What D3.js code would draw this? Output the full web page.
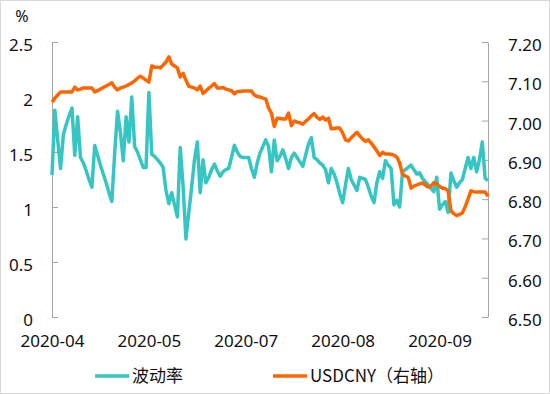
<!DOCTYPE html>
<html>
<head>
<meta charset="utf-8">
<script src="https://cdn.jsdelivr.net/npm/d3@7"></script>
<style>
  body { margin: 0; background: #fff; }
  text { font-family: "Noto Sans", "Noto Sans CJK SC", sans-serif; fill: #111; }
</style>
</head>
<body>
<script>
// volatility (%), left axis
const vol = [
  1.29, 1.88, 1.61, 1.35, 1.66, 1.75, 1.83, 1.90, 1.47, 1.82,
  1.45, 1.40, 1.33, 1.25, 1.18, 1.56, 1.47, 1.38, 1.30, 1.22,
  1.13, 1.05, 1.49, 1.87, 1.68, 1.42, 1.82, 1.59, 2.00, 1.55,
  1.50, 1.43, 1.36, 1.36, 2.04, 1.48, 1.46, 1.43, 1.40, 1.36,
  1.15, 1.03, 1.13, 1.02, 0.91, 1.54, 1.19, 0.71, 0.95, 1.18,
  1.43, 1.59, 1.13, 1.43, 1.22, 1.27, 1.34, 1.39, 1.33, 1.28,
  1.32, 1.34, 1.35, 1.45, 1.56, 1.50, 1.46, 1.45, 1.45, 1.45,
  1.35, 1.27, 1.40, 1.49, 1.55, 1.61, 1.55, 1.32, 1.61, 1.42,
  1.46, 1.52, 1.44, 1.35, 1.45, 1.49, 1.45, 1.41, 1.37, 1.47,
  1.57, 1.63, 1.45, 1.43, 1.40, 1.38, 1.34, 1.22, 1.35, 1.30,
  1.22, 1.12, 1.04, 1.20, 1.35, 1.25, 1.20, 1.15, 1.27, 1.26,
  1.25, 1.18, 1.10, 1.04, 1.22, 1.32, 1.26, 1.42, 1.38, 1.35,
  1.02, 1.06, 1.00, 1.32, 1.34, 1.36, 1.38, 1.34, 1.30, 1.31,
  1.26, 1.23, 1.20, 1.17, 1.14, 1.27, 0.98, 1.02, 1.05, 0.95,
  1.31, 1.24, 1.18, 1.22, 1.25, 1.35, 1.45, 1.35, 1.45, 1.32,
  1.43, 1.59, 1.26, 1.24
];

// USDCNY, right axis
const usdcny = [
  7.047, 7.057, 7.065, 7.073, 7.073, 7.073, 7.073, 7.073, 7.085, 7.078,
  7.080, 7.083, 7.083, 7.083, 7.083, 7.073, 7.076, 7.080, 7.084, 7.088,
  7.092, 7.096, 7.085, 7.078, 7.083, 7.085, 7.088, 7.092, 7.096, 7.101,
  7.108, 7.113, 7.108, 7.103, 7.098, 7.139, 7.136, 7.136, 7.134, 7.141,
  7.149, 7.162, 7.144, 7.139, 7.134, 7.111, 7.120, 7.103, 7.087, 7.085,
  7.083, 7.078, 7.088, 7.069, 7.075, 7.082, 7.088, 7.094, 7.083, 7.083,
  7.084, 7.080, 7.078, 7.076, 7.068, 7.074, 7.074, 7.075, 7.075, 7.075,
  7.075, 7.065, 7.061, 7.060, 7.057, 7.055, 7.032, 7.019, 6.985, 7.006,
  7.005, 7.004, 7.004, 7.019, 6.987, 6.999, 6.996, 6.994, 6.991, 6.998,
  7.004, 7.012, 7.018, 7.008, 7.003, 7.009, 7.001, 7.006, 6.979, 6.980,
  6.981, 6.981, 6.968, 6.951, 6.948, 6.956, 6.963, 6.970, 6.961, 6.953,
  6.947, 6.951, 6.943, 6.933, 6.923, 6.911, 6.919, 6.915, 6.915, 6.914,
  6.912, 6.907, 6.892, 6.864, 6.859, 6.855, 6.828, 6.833, 6.836, 6.839,
  6.841, 6.836, 6.831, 6.833, 6.842, 6.839, 6.832, 6.828, 6.827, 6.821,
  6.770, 6.763, 6.758, 6.761, 6.765, 6.781, 6.800, 6.821, 6.819, 6.818,
  6.818, 6.818, 6.818, 6.807
];

const xTickIdx = [0, 34, 68, 102, 136];
const xTickLabels = ["2020-04", "2020-05", "2020-07", "2020-08", "2020-09"];
const leftTicks = [0, 0.5, 1, 1.5, 2, 2.5];
const rightTicks = [6.5, 6.6, 6.7, 6.8, 6.9, 7.0, 7.1, 7.2];
const seriesNames = ["波动率", "USDCNY（右轴）"];

const W = 550, H = 394;
const plot = { left: 52, right: 488, top: 42, bottom: 317 };
const tealColor = "#35C6C4";
const orangeColor = "#FF6600";
const axisColor = "#a6a6a6";

const svg = d3.select("body").append("svg")
  .attr("width", W)
  .attr("height", H);

svg.append("rect")
  .attr("x", 0.5).attr("y", 0.5)
  .attr("width", W - 1).attr("height", H - 1)
  .attr("fill", "#fff")
  .attr("stroke", "#d9d9d9");

const x = d3.scaleLinear().domain([0, vol.length - 1]).range([plot.left, plot.right]);
const yL = d3.scaleLinear().domain([0, 2.5]).range([plot.bottom, plot.top]);
const yR = d3.scaleLinear().domain([6.5, 7.2]).range([plot.bottom, plot.top]);

// left axis
const gL = svg.append("g")
  .attr("transform", `translate(${plot.left},0)`)
  .call(d3.axisLeft(yL).tickValues(leftTicks).tickFormat(d => String(d))
    .tickSizeInner(-6).tickSizeOuter(0).tickPadding(19));

// right axis
const gR = svg.append("g")
  .attr("transform", `translate(${plot.right},0)`)
  .call(d3.axisRight(yR).tickValues(rightTicks).tickFormat(d3.format(".2f"))
    .tickSizeInner(-6).tickSizeOuter(0).tickPadding(20));

[gL, gR].forEach(g => {
  g.select(".domain").attr("stroke", axisColor);
  g.selectAll(".tick line").attr("stroke", axisColor);
  g.selectAll(".tick text")
    .attr("font-size", 17)
    .attr("dy", "0.5em")
    .style("font-family", '"Noto Sans", sans-serif')
    .attr("fill", "#111");
});

// bottom labels, no axis line
const gB = svg.append("g")
  .attr("transform", `translate(0,${plot.bottom})`)
  .call(d3.axisBottom(x).tickValues(xTickIdx)
    .tickFormat((d, i) => xTickLabels[i])
    .tickSize(0).tickPadding(18));
gB.select(".domain").remove();
gB.selectAll(".tick text")
  .attr("font-size", 17)
  .style("font-family", '"Noto Sans", sans-serif')
  .attr("fill", "#111");

svg.append("text")
  .attr("x", 22).attr("y", 22)
  .attr("text-anchor", "middle")
  .attr("font-size", 16)
  .text("%");

const lineL = d3.line().x((d, i) => x(i)).y(d => yL(d));
const lineR = d3.line().x((d, i) => x(i)).y(d => yR(d));

svg.append("path")
  .datum(vol)
  .attr("d", lineL)
  .attr("fill", "none")
  .attr("stroke", tealColor)
  .attr("stroke-width", 3.5)
  .attr("stroke-linejoin", "round");

svg.append("path")
  .datum(usdcny)
  .attr("d", lineR)
  .attr("fill", "none")
  .attr("stroke", orangeColor)
  .attr("stroke-width", 3.5)
  .attr("stroke-linejoin", "round");

// legend
const legend = svg.append("g").attr("transform", "translate(0,376)");
const legendItems = [
  { name: seriesNames[0], color: tealColor, x0: 95 },
  { name: seriesNames[1], color: orangeColor, x0: 273 }
];
legendItems.forEach(it => {
  legend.append("line")
    .attr("x1", it.x0).attr("x2", it.x0 + 34)
    .attr("y1", 0).attr("y2", 0)
    .attr("stroke", it.color)
    .attr("stroke-width", 3.5);
  legend.append("text")
    .attr("x", it.x0 + 37).attr("y", 0)
    .attr("dy", "0.35em")
    .attr("font-size", 17)
    .style("font-family", '"Noto Sans CJK SC", "Noto Sans", sans-serif')
    .text(it.name);
});
</script>
</body>
</html>
